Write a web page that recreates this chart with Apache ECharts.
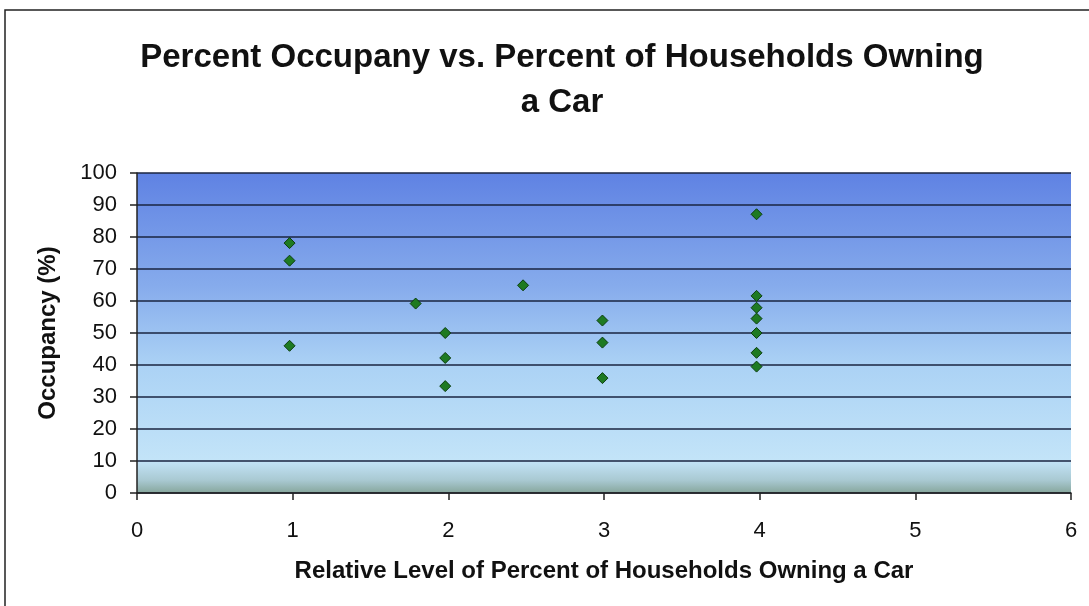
<!DOCTYPE html>
<html>
<head>
<meta charset="utf-8">
<script src="https://cdn.jsdelivr.net/npm/echarts@6/dist/echarts.min.js"></script>
<style>html,body{margin:0;padding:0;background:#fff}#c{width:1089px;height:606px}</style>
</head>
<body>
<div id="c"></div>
<script>
// Data
const xValues = [0.98, 0.98, 0.98, 1.79, 1.98, 1.98, 1.98, 2.48, 2.99, 2.99, 2.99, 3.98, 3.98, 3.98, 3.98, 3.98, 3.98, 3.98];
const yValues = [78.1, 72.6, 46.0, 59.2, 50.0, 42.2, 33.4, 64.9, 53.9, 47.0, 35.9, 87.1, 61.6, 57.9, 54.5, 50.0, 43.8, 39.5];
const titleText = 'Percent Occupany vs. Percent of Households Owning\na Car';
const xAxisTitle = 'Relative Level of Percent of Households Owning a Car';
const yAxisTitle = 'Occupancy (%)';

const points = xValues.map((x, i) => [x, yValues[i]]);
const font = '"Liberation Sans", Arial, sans-serif';

const chart = echarts.init(document.getElementById('c'), null, {renderer: 'canvas'});
chart.setOption({
  animation: false,
  backgroundColor: '#ffffff',
  title: {
    text: titleText,
    left: 557,
    textAlign: 'center',
    top: 30,
    textStyle: {fontFamily: font, fontWeight: 'bold', fontSize: 33, color: '#111', lineHeight: 45}
  },
  grid: {
    left: 137, right: 18, top: 173, bottom: 113,
    show: true,
    borderWidth: 0,
    backgroundColor: new echarts.graphic.LinearGradient(0, 0, 0, 1, [
      {offset: 0, color: '#5f82e3'},
      {offset: 0.35, color: '#86abec'},
      {offset: 0.6, color: '#abd2f5'},
      {offset: 0.9, color: '#c3e4f8'},
      {offset: 0.96, color: '#a9c9d2'},
      {offset: 1, color: '#86a69c'}
    ])
  },
  xAxis: {
    type: 'value', min: 0, max: 6, interval: 1,
    name: xAxisTitle, nameLocation: 'middle', nameGap: 66,
    nameTextStyle: {fontFamily: font, fontWeight: 'bold', fontSize: 24, color: '#111'},
    axisLine: {show: true, lineStyle: {color: '#222', width: 1.5}},
    axisTick: {show: true, inside: false, length: 7, lineStyle: {color: '#222', width: 1.5}},
    axisLabel: {fontFamily: font, fontSize: 22, color: '#111', margin: 27},
    splitLine: {show: false}
  },
  yAxis: {
    type: 'value', min: 0, max: 100, interval: 10,
    name: yAxisTitle, nameLocation: 'middle', nameGap: 77, nameRotate: 90,
    nameTextStyle: {fontFamily: font, fontWeight: 'bold', fontSize: 24, color: '#111'},
    axisLine: {show: true, lineStyle: {color: '#222', width: 1.5}},
    axisTick: {show: true, inside: false, length: 7, lineStyle: {color: '#222', width: 1.5}},
    axisLabel: {fontFamily: font, fontSize: 22, color: '#111', margin: 20},
    splitLine: {show: true, lineStyle: {color: '#1a2440', width: 1.5}}
  },
  series: [{
    type: 'scatter',
    data: points,
    symbol: 'diamond',
    symbolSize: 11,
    itemStyle: {color: '#1e7a22', borderColor: '#0b3d0e', borderWidth: 1, opacity: 1}
  }],
  graphic: [{
    type: 'rect',
    silent: true,
    shape: {x: 5, y: 10, width: 1200, height: 700},
    style: {fill: 'none', stroke: '#222', lineWidth: 1.5}
  }]
});
</script>
</body>
</html>
